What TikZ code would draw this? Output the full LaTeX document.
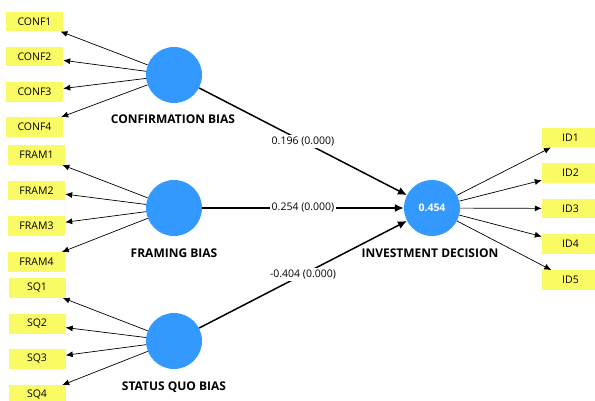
\documentclass[tikz,border=0pt]{standalone}
\usepackage{fontspec}
\setmainfont{Open Sans}
\usetikzlibrary{arrows.meta}
\definecolor{latentblue}{RGB}{51,153,255}
\definecolor{itemyellow}{RGB}{250,250,100}
\begin{document}
\begin{tikzpicture}[x=1pt,y=-1pt,
  item/.style={fill=itemyellow,minimum width=57pt,minimum height=19.5pt,inner sep=0pt,font=\fontsize{10.5}{12}\selectfont},
  latent/.style={circle,fill=latentblue,minimum size=56pt,inner sep=0pt,text=white,font=\bfseries\fontsize{10.5}{12}\selectfont},
  lvname/.style={font=\bfseries\fontsize{12}{14}\selectfont},
  loading/.style={draw=black,line width=0.7pt,-{Latex[length=7pt,width=6pt]}},
  structural/.style={draw=black,line width=1.5pt,-{Latex[length=9pt,width=8pt]}},
  coef/.style={fill=white,inner sep=1.5pt,font=\fontsize{10.5}{12}\selectfont}]
\useasboundingbox (0,0) rectangle (595,401);

% latent variables
\node[latent] (conf) at (174,75) {};
\node[latent] (fram) at (174,208) {};
\node[latent] (sq) at (174,341) {};
\node[latent] (inv) at (432,208) {0.454};

\node[lvname] (confl) at (173,119) {CONFIRMATION BIAS};
\node[lvname] (framl) at (174,253) {FRAMING BIAS};
\node[lvname] (sql) at (174,387) {STATUS QUO BIAS};
\node[lvname] (invl) at (430,253) {INVESTMENT DECISION};

% indicators
\node[item] (c1) at (34.5,21.5) {CONF1};
\node[item] (c2) at (34.5,56.5) {CONF2};
\node[item] (c3) at (34.5,92) {CONF3};
\node[item] (c4) at (34.5,127) {CONF4};

\node[item] (f1) at (36.5,155) {FRAM1};
\node[item] (f2) at (36.5,190.5) {FRAM2};
\node[item] (f3) at (36.5,226) {FRAM3};
\node[item] (f4) at (36.5,262) {FRAM4};

\node[item] (s1) at (37,288) {SQ1};
\node[item] (s2) at (37,324) {SQ2};
\node[item] (s3) at (37,359) {SQ3};
\node[item] (s4) at (37,395) {SQ4};

\node[item] (i1) at (570.5,137.5) {ID1};
\node[item] (i2) at (570.5,173) {ID2};
\node[item] (i3) at (570.5,208.5) {ID3};
\node[item] (i4) at (570.5,244) {ID4};
\node[item] (i5) at (570.5,280) {ID5};

% outer loadings
\foreach \t in {c1,c2,c3,c4} \draw[loading] (conf) -- (\t);
\foreach \t in {f1,f2,f3,f4} \draw[loading] (fram) -- (\t);
\foreach \t in {s1,s2,s3,s4} \draw[loading] (sq) -- (\t);
\foreach \t in {i1,i2,i3,i4,i5} \draw[loading] (inv) -- (\t);

% path coefficients
\draw[structural] (conf) -- node[coef] {0.196 (0.000)} (inv);
\draw[structural] (fram) -- node[coef] {0.254 (0.000)} (inv);
\draw[structural] (sq) -- node[coef] {-0.404 (0.000)} (inv);
\end{tikzpicture}
\end{document}
